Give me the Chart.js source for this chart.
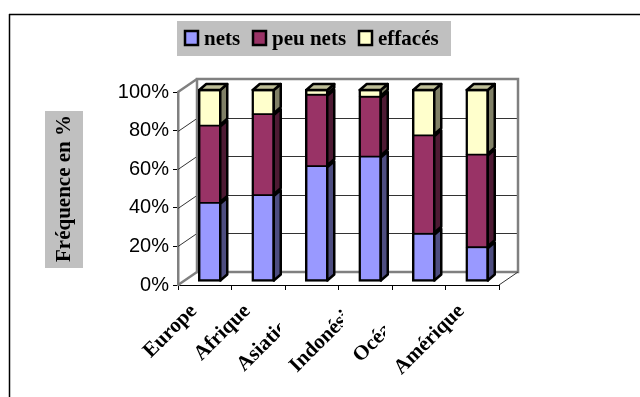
<!DOCTYPE html>
<html>
<head>
<meta charset="utf-8">
<title>Fréquence en %</title>
<style>
    html, body { margin: 0; background: #fff; }
    canvas { display: block; }
</style>
<script src="https://cdn.jsdelivr.net/npm/chart.js@4/dist/chart.umd.min.js"></script>
</head>
<body>
<canvas id="freqChart" width="640" height="397"></canvas>
<script>
const categories = ['Europe', 'Afrique', 'Asiatique', 'Indonésie', 'Océanie', 'Amérique'];
const nets = [41, 45, 60, 65, 25, 18];
const peuNets = [40, 42, 37, 31, 51, 48];
const effaces = [19, 13, 3, 4, 24, 34];
const yTicks = [0, 20, 40, 60, 80, 100];

const SERIF_BOLD = 'bold 21px "Liberation Serif"';
const DEPTH = { x: 19, y: 13 };      // depth of the chart box
const BAR_DEPTH = { x: 7, y: 6 };    // depth of each column
const BAR_SHIFT = { x: 5, y: -3 };   // columns stand a little inside the box

function line(ctx, x1, y1, x2, y2) {
    ctx.beginPath();
    ctx.moveTo(x1, y1);
    ctx.lineTo(x2, y2);
    ctx.stroke();
}

function face(ctx, points, fill) {
    ctx.beginPath();
    points.forEach((p, i) => i ? ctx.lineTo(p[0], p[1]) : ctx.moveTo(p[0], p[1]));
    ctx.closePath();
    ctx.fillStyle = fill;
    ctx.fill();
    ctx.stroke();
}

// page frame, legend box and the walls of the 3D box
const boxPlugin = {
    id: 'box',
    beforeDraw(chart) {
        const ctx = chart.ctx;
        ctx.save();
        ctx.strokeStyle = '#000';
        ctx.lineWidth = 1.5;
        line(ctx, 9, 14.5, 640, 14.5);
        line(ctx, 9.5, 14, 9.5, 397);

        // grey block behind the axis title
        ctx.fillStyle = '#c0c0c0';
        ctx.fillRect(45, 111, 38, 157);
        ctx.restore();
    },
    beforeDatasetsDraw(chart) {
        const ctx = chart.ctx;
        const { left, right, top, bottom } = chart.chartArea;
        const y = chart.scales.y;
        ctx.save();

        ctx.strokeStyle = '#333';
        ctx.lineWidth = 1;
        yTicks.slice(1, -1).forEach(v => {
            const py = Math.round(y.getPixelForValue(v)) + 0.5;
            line(ctx, left, py, left + DEPTH.x, py - DEPTH.y);
            line(ctx, left + DEPTH.x, py - DEPTH.y, right + DEPTH.x, py - DEPTH.y);
        });

        ctx.strokeStyle = '#808080';
        ctx.lineWidth = 2.5;
        ctx.strokeRect(left + DEPTH.x, top - DEPTH.y, right - left, bottom - top);
        line(ctx, left, top, left + DEPTH.x, top - DEPTH.y);
        line(ctx, left, bottom, left + DEPTH.x, bottom - DEPTH.y);

        ctx.strokeStyle = '#333';
        ctx.lineWidth = 1;
        line(ctx, right, bottom, right + DEPTH.x, bottom - DEPTH.y);
        ctx.restore();

        ctx.save();
        ctx.translate(BAR_SHIFT.x, BAR_SHIFT.y);
    },
    afterDatasetsDraw(chart) {
        const ctx = chart.ctx;
        ctx.strokeStyle = '#000';
        ctx.lineWidth = 2.5;
        ctx.lineJoin = 'round';
        chart.data.datasets.forEach((ds, i) => {
            chart.getDatasetMeta(i).data.forEach(bar => {
                const x0 = bar.x - bar.width / 2 + 1;
                const x1 = bar.x + bar.width / 2 - 1;
                const dx = BAR_DEPTH.x, dy = BAR_DEPTH.y;
                face(ctx, [[x1, bar.y + 1], [x1 + dx, bar.y + 1 - dy], [x1 + dx, bar.base - 1 - dy], [x1, bar.base - 1]], ds.sideColor);
                if (i === chart.data.datasets.length - 1) {
                    face(ctx, [[x0, bar.y + 1], [x0 + dx, bar.y + 1 - dy], [x1 + dx, bar.y + 1 - dy], [x1, bar.y + 1]], ds.topColor);
                }
            });
        });
        ctx.restore();
    },
    afterDraw(chart) {
        const ctx = chart.ctx;
        ctx.save();

        // category labels, slanted; the long ones are cut off by their neighbour's cell
        const labelCut = [640, 640, 280, 343, 385, 640];
        const x = chart.scales.x;
        ctx.font = SERIF_BOLD;
        ctx.fillStyle = '#000';
        ctx.textAlign = 'right';
        ctx.textBaseline = 'middle';
        categories.forEach((name, i) => {
            ctx.save();
            ctx.beginPath();
            ctx.rect(0, 285, labelCut[i], 112);
            ctx.clip();
            ctx.translate(x.getPixelForValue(i) - 11, 308);
            ctx.rotate(-Math.PI / 4);
            ctx.fillText(name, 0, 0);
            ctx.restore();
        });

        // legend
        ctx.fillStyle = '#c0c0c0';
        ctx.fillRect(177, 21, 274, 35);
        const swatchX = [185, 253, 359];
        ctx.textAlign = 'left';
        ctx.textBaseline = 'alphabetic';
        chart.data.datasets.forEach((ds, i) => {
            ctx.fillStyle = ds.backgroundColor;
            ctx.strokeStyle = '#000';
            ctx.lineWidth = 2.5;
            ctx.fillRect(swatchX[i], 31, 13, 14);
            ctx.strokeRect(swatchX[i], 31, 13, 14);
            ctx.fillStyle = '#000';
            ctx.fillText(ds.label, swatchX[i] + 19, 45);
        });
        ctx.restore();
    }
};

// shared edges between stacked segments get half a border from each side
const OUTER = 2.5, INNER = 1.25;

new Chart(document.getElementById('freqChart').getContext('2d'), {
    type: 'bar',
    data: {
        labels: categories,
        datasets: [
            { label: 'nets', data: nets, backgroundColor: '#9999ff', sideColor: '#4d4d80',
              borderWidth: { top: INNER, bottom: OUTER, left: OUTER, right: OUTER } },
            { label: 'peu nets', data: peuNets, backgroundColor: '#993366', sideColor: '#4d1a33',
              borderWidth: { top: INNER, bottom: INNER, left: OUTER, right: OUTER } },
            { label: 'effacés', data: effaces, backgroundColor: '#ffffcc', sideColor: '#808066', topColor: '#bfbf99',
              borderWidth: { top: OUTER, bottom: INNER, left: OUTER, right: OUTER } }
        ].map(ds => ({ ...ds, borderColor: '#000', borderSkipped: false, barThickness: 23 }))
    },
    options: {
        responsive: false,
        animation: false,
        layout: { padding: { top: 92, right: 141, bottom: 0, left: 0 } },
        plugins: { legend: { display: false }, tooltip: { enabled: false } },
        scales: {
            x: {
                stacked: true,
                afterFit: scale => { scale.height = 112; },
                grid: { offset: true, drawOnChartArea: false, color: '#000', tickLength: 5 },
                border: { color: '#000', width: 1 },
                ticks: { display: false }
            },
            y: {
                stacked: true,
                min: 0,
                max: 100,
                afterFit: scale => { scale.width = 178; },
                afterBuildTicks: scale => { scale.ticks = yTicks.map(value => ({ value })); },
                grid: { drawOnChartArea: false, color: '#000', tickLength: 5 },
                border: { color: '#808080', width: 2.5 },
                ticks: {
                    color: '#000',
                    padding: 4,
                    font: { family: '"Liberation Sans"', size: 20 },
                    callback: value => value + '%'
                },
                title: {
                    display: true,
                    text: 'Fréquence en %',
                    color: '#000',
                    font: { family: '"Liberation Serif"', size: 21, weight: 'bold' },
                    padding: { top: 52 }
                }
            }
        }
    },
    plugins: [boxPlugin]
});
</script>
</body>
</html>
